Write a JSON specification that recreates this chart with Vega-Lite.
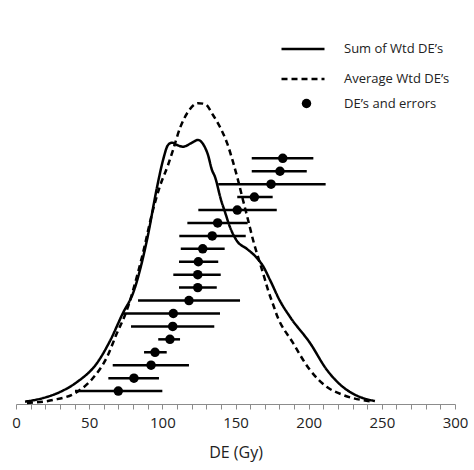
{
  "$schema": "https://vega.github.io/schema/vega-lite/v6.json",
  "width": 439,
  "height": 375,
  "autosize": {"type": "none"},
  "padding": {"left": 16, "top": 29, "right": 19, "bottom": 66},
  "config": {"view": {"stroke": null}, "font": "Open Sans"},
  "datasets": {
    "curves": [
      {"series": "Sum of Wtd DE’s", "de": 6.2, "value": 0.18},
      {"series": "Sum of Wtd DE’s", "de": 18.5, "value": 0.46},
      {"series": "Sum of Wtd DE’s", "de": 30.1, "value": 0.93},
      {"series": "Sum of Wtd DE’s", "de": 41.7, "value": 1.7},
      {"series": "Sum of Wtd DE’s", "de": 55.4, "value": 3.17},
      {"series": "Sum of Wtd DE’s", "de": 64.2, "value": 4.87},
      {"series": "Sum of Wtd DE’s", "de": 73.1, "value": 7.04},
      {"series": "Sum of Wtd DE’s", "de": 80.0, "value": 8.58},
      {"series": "Sum of Wtd DE’s", "de": 89.5, "value": 12.68},
      {"series": "Sum of Wtd DE’s", "de": 96.4, "value": 16.78},
      {"series": "Sum of Wtd DE’s", "de": 100.5, "value": 18.87},
      {"series": "Sum of Wtd DE’s", "de": 103.9, "value": 20.03},
      {"series": "Sum of Wtd DE’s", "de": 106.6, "value": 20.21},
      {"series": "Sum of Wtd DE’s", "de": 110.0, "value": 20.03},
      {"series": "Sum of Wtd DE’s", "de": 114.1, "value": 19.9},
      {"series": "Sum of Wtd DE’s", "de": 120.3, "value": 20.21},
      {"series": "Sum of Wtd DE’s", "de": 124.4, "value": 20.42},
      {"series": "Sum of Wtd DE’s", "de": 127.8, "value": 20.11},
      {"series": "Sum of Wtd DE’s", "de": 131.2, "value": 19.26},
      {"series": "Sum of Wtd DE’s", "de": 133.9, "value": 18.1},
      {"series": "Sum of Wtd DE’s", "de": 136.0, "value": 17.56},
      {"series": "Sum of Wtd DE’s", "de": 140.1, "value": 15.78},
      {"series": "Sum of Wtd DE’s", "de": 142.8, "value": 14.85},
      {"series": "Sum of Wtd DE’s", "de": 146.2, "value": 13.69},
      {"series": "Sum of Wtd DE’s", "de": 151.0, "value": 12.61},
      {"series": "Sum of Wtd DE’s", "de": 157.9, "value": 11.99},
      {"series": "Sum of Wtd DE’s", "de": 164.0, "value": 11.37},
      {"series": "Sum of Wtd DE’s", "de": 168.8, "value": 10.67},
      {"series": "Sum of Wtd DE’s", "de": 173.6, "value": 9.59},
      {"series": "Sum of Wtd DE’s", "de": 180.4, "value": 7.97},
      {"series": "Sum of Wtd DE’s", "de": 187.3, "value": 6.73},
      {"series": "Sum of Wtd DE’s", "de": 200.9, "value": 4.72},
      {"series": "Sum of Wtd DE’s", "de": 212.5, "value": 2.63},
      {"series": "Sum of Wtd DE’s", "de": 223.5, "value": 1.31},
      {"series": "Sum of Wtd DE’s", "de": 235.1, "value": 0.54},
      {"series": "Sum of Wtd DE’s", "de": 245.3, "value": 0.23},
      {"series": "Average Wtd DE’s", "de": 7.5, "value": 0.08},
      {"series": "Average Wtd DE’s", "de": 25.3, "value": 0.31},
      {"series": "Average Wtd DE’s", "de": 41.7, "value": 0.93},
      {"series": "Average Wtd DE’s", "de": 52.6, "value": 2.01},
      {"series": "Average Wtd DE’s", "de": 62.2, "value": 3.63},
      {"series": "Average Wtd DE’s", "de": 69.0, "value": 5.49},
      {"series": "Average Wtd DE’s", "de": 74.5, "value": 6.88},
      {"series": "Average Wtd DE’s", "de": 86.1, "value": 11.37},
      {"series": "Average Wtd DE’s", "de": 93.6, "value": 15.0},
      {"series": "Average Wtd DE’s", "de": 98.4, "value": 16.86},
      {"series": "Average Wtd DE’s", "de": 103.9, "value": 18.48},
      {"series": "Average Wtd DE’s", "de": 107.3, "value": 19.64},
      {"series": "Average Wtd DE’s", "de": 112.1, "value": 21.35},
      {"series": "Average Wtd DE’s", "de": 117.5, "value": 22.58},
      {"series": "Average Wtd DE’s", "de": 124.4, "value": 23.26},
      {"series": "Average Wtd DE’s", "de": 129.2, "value": 23.2},
      {"series": "Average Wtd DE’s", "de": 134.6, "value": 22.35},
      {"series": "Average Wtd DE’s", "de": 139.4, "value": 21.42},
      {"series": "Average Wtd DE’s", "de": 144.2, "value": 20.19},
      {"series": "Average Wtd DE’s", "de": 148.3, "value": 18.72},
      {"series": "Average Wtd DE’s", "de": 151.7, "value": 17.32},
      {"series": "Average Wtd DE’s", "de": 155.1, "value": 15.78},
      {"series": "Average Wtd DE’s", "de": 158.6, "value": 14.23},
      {"series": "Average Wtd DE’s", "de": 162.0, "value": 12.68},
      {"series": "Average Wtd DE’s", "de": 165.4, "value": 11.37},
      {"series": "Average Wtd DE’s", "de": 168.8, "value": 10.13},
      {"series": "Average Wtd DE’s", "de": 172.2, "value": 8.82},
      {"series": "Average Wtd DE’s", "de": 176.3, "value": 7.5},
      {"series": "Average Wtd DE’s", "de": 177.7, "value": 7.04},
      {"series": "Average Wtd DE’s", "de": 189.3, "value": 4.72},
      {"series": "Average Wtd DE’s", "de": 200.9, "value": 2.63},
      {"series": "Average Wtd DE’s", "de": 212.5, "value": 1.31},
      {"series": "Average Wtd DE’s", "de": 223.5, "value": 0.7},
      {"series": "Average Wtd DE’s", "de": 244.0, "value": 0.18}
    ],
    "errors": [
      {"series": "DE’s and errors", "rank": 19, "de": 182.3, "lo": 161.1, "hi": 203.2},
      {"series": "DE’s and errors", "rank": 18, "de": 180.4, "lo": 161.1, "hi": 198.7},
      {"series": "DE’s and errors", "rank": 17, "de": 174.3, "lo": 138.2, "hi": 211.6},
      {"series": "DE’s and errors", "rank": 16, "de": 162.9, "lo": 151.2, "hi": 175.4},
      {"series": "DE’s and errors", "rank": 15, "de": 151.2, "lo": 124.6, "hi": 178.2},
      {"series": "DE’s and errors", "rank": 14, "de": 137.8, "lo": 117.1, "hi": 158.3},
      {"series": "DE’s and errors", "rank": 13, "de": 134.1, "lo": 111.6, "hi": 157.0},
      {"series": "DE’s and errors", "rank": 12, "de": 127.6, "lo": 112.6, "hi": 142.6},
      {"series": "DE’s and errors", "rank": 11, "de": 124.6, "lo": 111.4, "hi": 138.2},
      {"series": "DE’s and errors", "rank": 10, "de": 124.2, "lo": 107.5, "hi": 139.9},
      {"series": "DE’s and errors", "rank": 9, "de": 124.2, "lo": 111.4, "hi": 137.2},
      {"series": "DE’s and errors", "rank": 8, "de": 118.2, "lo": 83.4, "hi": 153.1},
      {"series": "DE’s and errors", "rank": 7, "de": 107.5, "lo": 73.1, "hi": 139.4},
      {"series": "DE’s and errors", "rank": 6, "de": 107.1, "lo": 78.6, "hi": 135.5},
      {"series": "DE’s and errors", "rank": 5, "de": 105.2, "lo": 97.2, "hi": 112.1},
      {"series": "DE’s and errors", "rank": 4, "de": 95.0, "lo": 87.5, "hi": 103.0},
      {"series": "DE’s and errors", "rank": 3, "de": 92.3, "lo": 66.1, "hi": 118.2},
      {"series": "DE’s and errors", "rank": 2, "de": 80.6, "lo": 63.1, "hi": 97.7},
      {"series": "DE’s and errors", "rank": 1, "de": 69.9, "lo": 40.3, "hi": 100.0}
    ]
  },
  "encoding": {
    "x": {
      "type": "quantitative",
      "scale": {"domain": [0, 300], "nice": false},
      "axis": {
        "values": [0,10,20,30,40,50,60,70,80,90,100,110,120,130,140,150,160,170,180,190,200,210,220,230,240,250,260,270,280,290,300],
        "labelExpr": "datum.value % 50 === 0 ? datum.label : ''",
        "labelOverlap": false,
        "labelFlush": false,
        "grid": false,
        "domainColor": "#8c8c8c",
        "tickColor": "#8c8c8c",
        "tickSize": 5,
        "labelFontSize": 15,
        "labelColor": "#222222",
        "labelPadding": 6,
        "title": "DE (Gy)",
        "titleFontSize": 16,
        "titleFontWeight": "normal",
        "titleColor": "#222222",
        "titlePadding": 14
      }
    },
    "y": {
      "type": "quantitative",
      "scale": {"domain": [0, 29], "nice": false, "zero": true},
      "axis": null
    }
  },
  "layer": [
    {
      "data": {"name": "curves"},
      "mark": {"type": "line", "interpolate": "monotone", "strokeWidth": 2.5, "color": "black"},
      "encoding": {
        "x": {"field": "de", "type": "quantitative"},
        "y": {"field": "value", "type": "quantitative"},
        "strokeDash": {
          "field": "series", "type": "nominal",
          "scale": {"domain": ["Sum of Wtd DE’s", "Average Wtd DE’s"], "range": [[1, 0], [6, 4]]},
          "legend": {"orient": "none", "legendX": 264, "legendY": -3, "title": null, "labelFontSize": 13, "labelColor": "#222222", "labelOffset": 18, "symbolType": "stroke", "symbolSize": 1849, "symbolStrokeWidth": 2.5, "symbolStrokeColor": "black", "rowPadding": -17.5}
        }
      }
    },
    {
      "data": {"name": "errors"},
      "mark": {"type": "rule", "strokeWidth": 2.5, "color": "black"},
      "encoding": {
        "x": {"field": "lo", "type": "quantitative"},
        "x2": {"field": "hi"},
        "y": {"field": "rank", "type": "quantitative"}
      }
    },
    {
      "data": {"name": "errors"},
      "mark": {"type": "point", "filled": true, "opacity": 1, "color": "black", "size": 90},
      "encoding": {
        "x": {"field": "de", "type": "quantitative"},
        "y": {"field": "rank", "type": "quantitative"},
        "shape": {
          "field": "series", "type": "nominal",
          "scale": {"domain": ["DE’s and errors"], "range": ["circle"]},
          "legend": {"orient": "none", "legendX": 284, "legendY": 68, "title": null, "labelFontSize": 13, "labelColor": "#222222", "labelOffset": 31, "symbolSize": 90, "symbolFillColor": "black", "symbolStrokeColor": "black"}
        }
      }
    }
  ]
}
